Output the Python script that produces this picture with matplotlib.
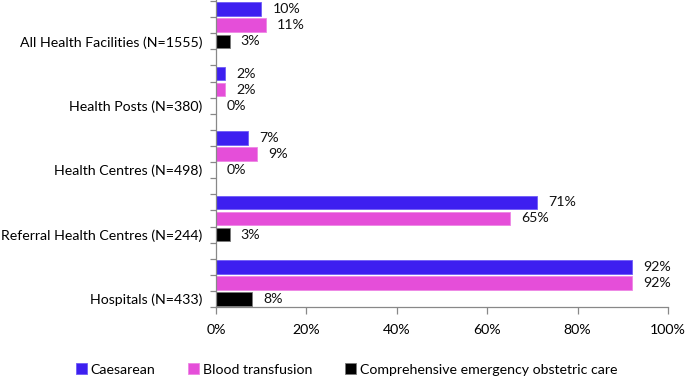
import numpy as np
import matplotlib.pyplot as plt

plt.rcParams['font.family'] = ['Lato', 'DejaVu Sans']

# categories listed from bottom to top of the chart
categories = ["Hospitals (N=433)", "Referral Health Centres (N=244)",
              "Health Centres (N=498)", "Health Posts (N=380)",
              "All Health Facilities (N=1555)"]
caesarean = [92, 71, 7, 2, 10]
blood_transfusion = [92, 65, 9, 2, 11]
cemoc = [8, 3, 0, 0, 3]

series_names = ["Caesarean", "Blood transfusion",
                "Comprehensive emergency obstetric care"]
colors = ["#3d1ff0", "#e54ed9", "#000000"]
edges = ["#6f5cf6", "#ee86e4", "#7a7a7a"]

fs = 10.2

fig = plt.figure(figsize=(6.85, 3.77), dpi=100)
ax = fig.add_axes([216 / 685, 70 / 377, 452 / 685, 322 / 377])

group = np.arange(len(categories)) * 4
# slot offsets inside a group: black at bottom, pink, blue on top
offsets = [2.5, 1.5, 0.5]
all_vals = [caesarean, blood_transfusion, cemoc]

for vals, off, c, ec, name in zip(all_vals, offsets, colors, edges, series_names):
    ypos = group + off
    ax.barh(ypos, vals, height=0.84, color=c, edgecolor=ec, linewidth=0.6,
            label=name)
    for y, v in zip(ypos, vals):
        ax.annotate(f"{v}%", (v, y), xytext=(8, 0), textcoords="offset points",
                    va="center", ha="left", fontsize=fs, color="#111111")

ax.set_xlim(0, 100)
ax.set_ylim(0, 20)
ax.set_xticks(np.arange(0, 101, 20))
ax.set_xticklabels([f"{t}%" for t in range(0, 101, 20)])

ax.set_yticks(np.arange(0, 21, 1))
ax.set_yticklabels([])
ax.set_yticks(group + 0.5, minor=True)
ax.set_yticklabels(categories, minor=True)
ax.tick_params(axis="y", which="minor", length=0, pad=10, labelsize=fs)
ax.tick_params(axis="y", which="major", length=4, color="#888888", width=0.9)
ax.tick_params(axis="x", length=5, color="#888888", width=0.9, pad=7,
               labelsize=fs)

for s in ["top", "right"]:
    ax.spines[s].set_visible(False)
for s in ["left", "bottom"]:
    ax.spines[s].set_color("#888888")
    ax.spines[s].set_linewidth(0.9)

handles, labels = ax.get_legend_handles_labels()
fig.legend(handles, labels, loc="center", bbox_to_anchor=(0.506, 0.02),
           ncol=3, frameon=False, fontsize=fs, handlelength=0.75,
           handleheight=0.75, handletextpad=0.3, columnspacing=2.3)

fig.savefig("out.png", dpi=100)
